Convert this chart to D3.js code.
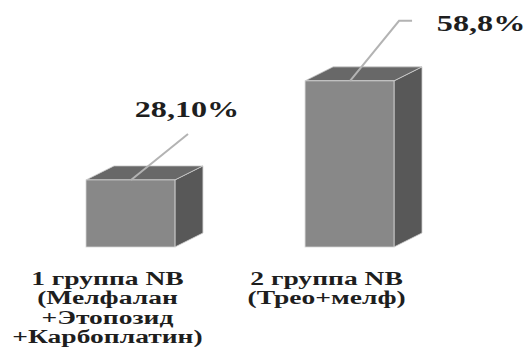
<!DOCTYPE html>
<html>
<head>
  <meta charset="utf-8">
  <script src="https://d3js.org/d3.v7.min.js"></script>
  <style>
  body{ margin:0; background:#fff; }
  .lbl{ font-family:"Liberation Serif","Times New Roman",serif; font-weight:bold; fill:#1e1e1e; }
  </style>
</head>
<body>
  <svg width="527" height="348"></svg>
<script>
var categories = ["1 группа NB", "2 группа NB"];
var catLines = [
  ["1 группа NB", "(Мелфалан", "+Этопозид", "+Карбоплатин)"],
  ["2 группа NB", "(Трео+мелф)"]
];
var values = [28.1, 58.8];
var valueLabels = ["28,10%", "58,8%"];

var svg = d3.select("svg");
var baseY = 247, depthX = 28, depthY = 14;

var x = d3.scaleBand().domain(categories).range([86, 394]).paddingInner(0.594).paddingOuter(0);
var y = d3.scaleLinear().domain([7.3, 60]).range([baseY, baseY - 170]);

var data = categories.map(function(c, i){ return {c:c, v:values[i], t:valueLabels[i], lines:catLines[i]}; });

var bars = svg.selectAll(".bar").data(data).enter().append("g").attr("class","bar");

// side face
bars.append("path")
  .attr("fill","#585858").attr("stroke","#cfcfcf").attr("stroke-width",0.8)
  .attr("d", function(d){
    var x1 = x(d.c) + x.bandwidth(), t = y(d.v);
    return "M"+x1+","+t+" L"+(x1+depthX)+","+(t-depthY)+" L"+(x1+depthX)+","+(baseY-depthY)+" L"+x1+","+baseY+"Z";
  });
// top face
bars.append("path")
  .attr("fill","#686868").attr("stroke","#cfcfcf").attr("stroke-width",0.8)
  .attr("d", function(d){
    var x0 = x(d.c), x1 = x0 + x.bandwidth(), t = y(d.v);
    return "M"+x0+","+t+" L"+(x0+depthX)+","+(t-depthY)+" L"+(x1+depthX)+","+(t-depthY)+" L"+x1+","+t+"Z";
  });
// front face
bars.append("rect")
  .attr("fill","#888888").attr("stroke","#d4d4d4").attr("stroke-width",0.8)
  .attr("x", function(d){ return x(d.c); })
  .attr("y", function(d){ return y(d.v); })
  .attr("width", x.bandwidth())
  .attr("height", function(d){ return baseY - y(d.v); });

// leader lines + value labels
var leader = [
  {dx:57, dy:-46, h:0, tx:56, ty:-63},
  {dx:49, dy:-60, h:13, tx:131, ty:-50}
];
bars.append("polyline")
  .attr("fill","none").attr("stroke","#b3b3b3").attr("stroke-width",2)
  .attr("points", function(d, i){
    var l = leader[i], sx = x(d.c) + 45, sy = y(d.v);
    return sx+","+sy+" "+(sx+l.dx)+","+(sy+l.dy)+" "+(sx+l.dx+l.h)+","+(sy+l.dy);
  });
bars.append("g")
  .attr("transform", function(d, i){
    var l = leader[i];
    return "translate(" + (x(d.c) + 45 + l.tx) + "," + (y(d.v) + l.ty) + ") scale(1.4,1)";
  })
  .append("text").attr("class","lbl")
  .attr("text-anchor","middle")
  .attr("font-size", 23)
  .text(function(d){ return d.t; });

// category labels
var cats = svg.selectAll(".cat").data(data).enter().append("g")
  .attr("class","cat")
  .attr("transform", function(d){ return "translate(" + (x(d.c) + x.bandwidth()/2 - 23) + ",285) scale(1.45,1)"; });
cats.append("text").attr("class","lbl")
  .attr("text-anchor","middle").attr("font-size",19)
  .selectAll("tspan").data(function(d){ return d.lines; }).enter().append("tspan")
  .attr("x",0).attr("dy", function(d, i){ return i === 0 ? 0 : 19.5; })
  .text(function(d){ return d; });
</script>
</body>
</html>
